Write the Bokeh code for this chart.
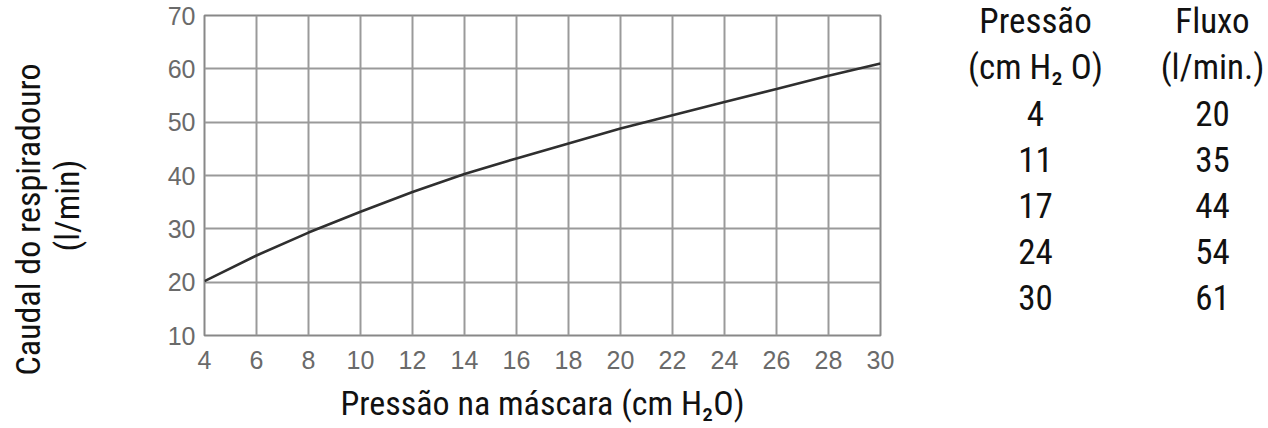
from bokeh.plotting import figure
from bokeh.models import Range1d, FixedTicker, ColumnDataSource
from bokeh.layouts import row, column
from bokeh.embed import file_html
from bokeh.resources import INLINE
from bokeh.core.properties import value
import math

# ---- data ----
pressure = [4, 6, 8, 10, 12, 14, 16, 18, 20, 22, 24, 26, 28, 30]
flow = [20.2, 25.0, 29.3, 33.2, 36.9, 40.3, 43.2, 46.0, 48.8, 51.3, 53.8, 56.2, 58.7, 61.0]

x_ticks = [4, 6, 8, 10, 12, 14, 16, 18, 20, 22, 24, 26, 28, 30]
y_ticks = [10, 20, 30, 40, 50, 60, 70]

table_pressure = ["4", "11", "17", "24", "30"]
table_flow = ["20", "35", "44", "54", "61"]
header_pressure = ["Pressão", "(cm H₂ O)"]
header_flow = ["Fluxo", "(l/min.)"]

x_title = "Pressão na máscara (cm H₂O)"
y_title_lines = ["Caudal do respiradouro", "(l/min)"]

COND = "'Roboto Condensed', 'Liberation Sans Narrow', 'DejaVu Sans Condensed', sans-serif"
GRID = "#9a9a9a"
TXT = "#111111"

# ---- y-axis title panel ----
yl = figure(width=104, height=428,
            x_range=Range1d(-27 / 39.0, (104 - 27) / 39.0),
            y_range=Range1d(-1, 1),
            min_border=0, output_backend="svg", toolbar_location=None)
yl.axis.visible = False
yl.grid.visible = False
yl.outline_line_color = None
yl.text(x=[0], y=[0], text=[y_title_lines[0]], angle=math.pi / 2,
        y_offset=5, text_align="center", text_baseline="middle",
        text_font=value(COND), text_font_size="34px", text_color=TXT)
yl.text(x=[1], y=[0], text=[y_title_lines[1]], angle=math.pi / 2,
        y_offset=-9, text_align="center", text_baseline="middle",
        text_font=value(COND), text_font_size="34px", text_color=TXT)

# ---- chart ----
p = figure(frame_width=676, frame_height=320,
           x_range=Range1d(4, 30), y_range=Range1d(10, 70),
           min_border_left=100, min_border_right=20,
           min_border_top=15, min_border_bottom=93,
           output_backend="svg", toolbar_location=None)
p.background_fill_color = "white"
p.border_fill_color = "white"
p.outline_line_color = "#888888"
p.outline_line_width = 2

p.xaxis.ticker = FixedTicker(ticks=x_ticks)
p.yaxis.ticker = FixedTicker(ticks=y_ticks)
for ax in (p.xaxis[0], p.yaxis[0]):
    ax.axis_line_color = None
    ax.major_tick_line_color = None
    ax.minor_tick_line_color = None
    ax.major_label_text_font = "Liberation Sans"
    ax.major_label_text_font_size = "25px"
    ax.major_label_text_color = "#6a6a6a"
p.xaxis.major_label_standoff = 9
p.yaxis.major_label_standoff = 3

p.xaxis.axis_label = x_title
p.xaxis.axis_label_text_font = COND
p.xaxis.axis_label_text_font_style = "normal"
p.xaxis.axis_label_text_font_size = "34px"
p.xaxis.axis_label_text_color = TXT
p.xaxis.axis_label_standoff = 11

p.xgrid.grid_line_color = GRID
p.ygrid.grid_line_color = GRID
p.xgrid.grid_line_width = 2
p.ygrid.grid_line_width = 2

p.line(pressure, flow, line_color="#2f2f2f", line_width=2.6)

# ---- table ----
t = figure(width=368, height=428,
           x_range=Range1d(-135 / 177.0, (368 - 135) / 177.0),
           y_range=Range1d(8.848, -0.4565),
           min_border=0, output_backend="svg", toolbar_location=None)
t.axis.visible = False
t.grid.visible = False
t.outline_line_color = None

col_p = header_pressure + table_pressure
col_f = header_flow + table_flow
src = ColumnDataSource(dict(
    x=[0] * len(col_p) + [1] * len(col_f),
    y=list(range(len(col_p))) + list(range(len(col_f))),
    txt=col_p + col_f,
))
t.text(x="x", y="y", text="txt", source=src, text_align="center",
       text_baseline="middle", text_font=value(COND),
       text_font_size="35px", text_color=TXT)

layout = row(column(yl), p, column(t))
open("out.html", "w").write(file_html(layout, INLINE))
